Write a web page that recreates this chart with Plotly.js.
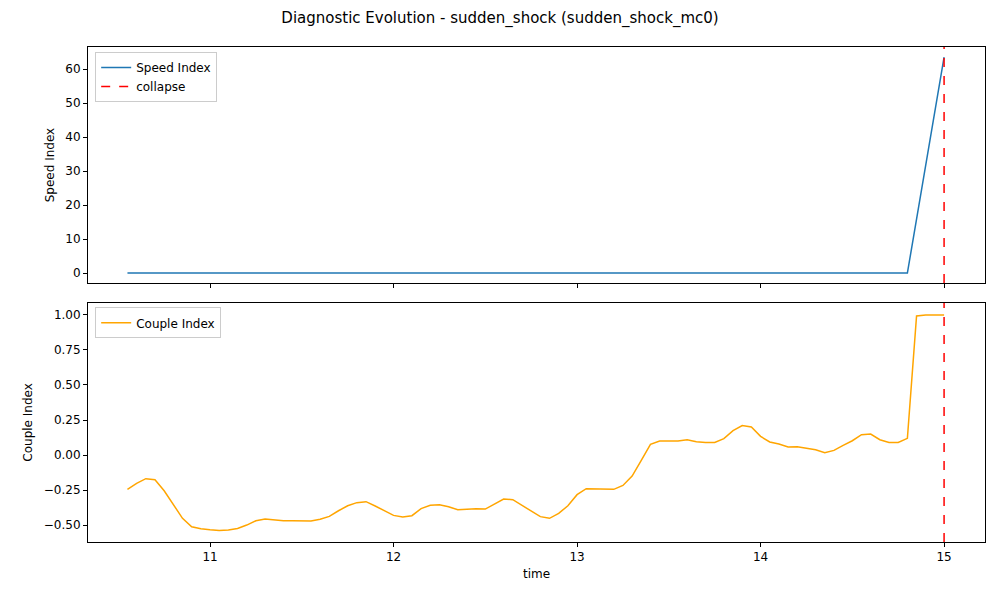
<!DOCTYPE html>
<html>
<head>
<meta charset="utf-8">
<script src="https://cdn.plot.ly/plotly-3.0.1.min.js"></script>
<style>body{margin:0;} #chart{width:1000px;height:600px;}</style>
</head>
<body>
<div id="chart"></div>
<script>
// time samples every 0.05 from 10.55 to 15.00
var time = [];
for (var i = 0; i < 90; i++) time.push(+(10.55 + i * 0.05).toFixed(2));

var speed_index = [
    0,0,0,0,0,0,0,0,0,0, 0,0,0,0,0,0,0,0,0,0,
    0,0,0,0,0,0,0,0,0,0, 0,0,0,0,0,0,0,0,0,0,
    0,0,0,0,0,0,0,0,0,0, 0,0,0,0,0,0,0,0,0,0,
    0,0,0,0,0,0,0,0,0,0, 0,0,0,0,0,0,0,0,0,0,
    0,0,0,0,0,0, 15.9,31.8,47.6,63.5
];

var couple_index = [
    -0.245,-0.202,-0.169,-0.176,-0.255,-0.350,-0.452,-0.512,-0.526,-0.533,
    -0.538,-0.536,-0.524,-0.500,-0.469,-0.457,-0.464,-0.469,-0.469,-0.469,
    -0.471,-0.459,-0.438,-0.398,-0.362,-0.340,-0.333,-0.364,-0.398,-0.431,
    -0.443,-0.433,-0.383,-0.359,-0.355,-0.369,-0.391,-0.386,-0.383,-0.386,
    -0.348,-0.314,-0.319,-0.359,-0.402,-0.440,-0.452,-0.417,-0.362,-0.283,
    -0.240,-0.240,-0.245,-0.245,-0.217,-0.150,-0.038,0.076,0.100,0.100,
    0.100,0.109,0.095,0.090,0.090,0.117,0.174,0.210,0.200,0.133,
    0.093,0.079,0.057,0.059,0.050,0.038,0.017,0.033,0.069,0.102,
    0.145,0.150,0.109,0.090,0.090,0.119,0.993,1.000,1.000,1.000
];

var collapse_time = 15.0;
var speed_range = [-2.94, 66.5];
var couple_range = [-0.621, 1.086];

var traces = [
    {x: time, y: speed_index, mode: 'lines', name: 'Speed Index',
     line: {color: '#1f77b4', width: 1.5}, xaxis: 'x', yaxis: 'y', legend: 'legend'},
    {x: [collapse_time, collapse_time], y: speed_range, mode: 'lines', name: 'collapse',
     line: {color: 'red', width: 1.5, dash: 'dash'}, xaxis: 'x', yaxis: 'y', legend: 'legend'},
    {x: time, y: couple_index, mode: 'lines', name: 'Couple Index',
     line: {color: 'orange', width: 1.5}, xaxis: 'x2', yaxis: 'y2', legend: 'legend2'},
    {x: [collapse_time, collapse_time], y: couple_range, mode: 'lines', name: 'collapse',
     showlegend: false, line: {color: 'red', width: 1.5, dash: 'dash'}, xaxis: 'x2', yaxis: 'y2'}
];

var axisStyle = {showgrid: false, zeroline: false, showline: true, mirror: true,
    linecolor: 'black', linewidth: 1, ticks: 'outside', ticklen: 4, tickcolor: 'black',
    tickfont: {size: 12, color: 'black'}};

var layout = {
    width: 1000, height: 600,
    margin: {l: 88, r: 15, t: 47, b: 58},
    paper_bgcolor: 'white', plot_bgcolor: 'white',
    font: {family: 'DejaVu Sans', color: 'black'},
    title: {text: 'Diagnostic Evolution - sudden_shock (sudden_shock_mc0)',
            font: {size: 15}, x: 0.5, xanchor: 'center', y: 0.97, yanchor: 'middle'},
    xaxis: Object.assign({}, axisStyle, {range: [10.335, 15.223], anchor: 'y',
        tickvals: [11, 12, 13, 14, 15], showticklabels: false, matches: 'x2'}),
    yaxis: Object.assign({}, axisStyle, {range: speed_range, domain: [0.523, 1],
        tickvals: [0, 10, 20, 30, 40, 50, 60],
        title: {text: 'Speed Index', font: {size: 12}, standoff: 8}}),
    xaxis2: Object.assign({}, axisStyle, {range: [10.335, 15.223], anchor: 'y2',
        tickvals: [11, 12, 13, 14, 15], title: {text: 'time', font: {size: 12}, standoff: 6}}),
    yaxis2: Object.assign({}, axisStyle, {range: couple_range, domain: [0, 0.483],
        tickvals: [-0.5, -0.25, 0, 0.25, 0.5, 0.75, 1.0], tickformat: '.2f',
        title: {text: 'Couple Index', font: {size: 12}, standoff: 8}}),
    legend: {x: 0.008, y: 0.99, xanchor: 'left', yanchor: 'top', yref: 'paper',
        bgcolor: 'rgba(255,255,255,0.8)', bordercolor: '#cccccc', borderwidth: 1,
        font: {size: 12}, tracegroupgap: 0},
    legend2: {x: 0.008, y: 0.474, xanchor: 'left', yanchor: 'top',
        bgcolor: 'rgba(255,255,255,0.8)', bordercolor: '#cccccc', borderwidth: 1,
        font: {size: 12}},
    showlegend: true
};

Plotly.newPlot('chart', traces, layout, {displayModeBar: false});
</script>
</body>
</html>
